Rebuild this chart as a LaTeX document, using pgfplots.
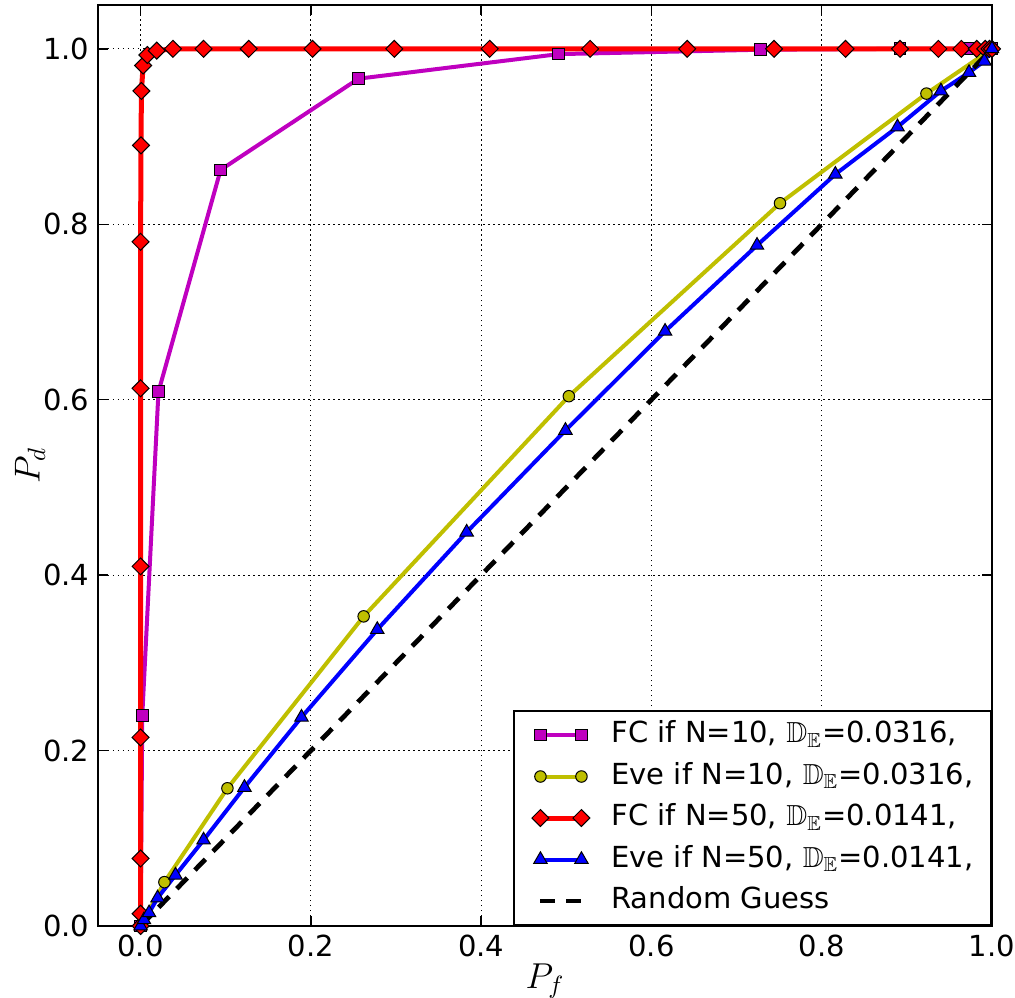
\documentclass[border=0pt]{standalone}
\usepackage{fontspec}
\usepackage{amssymb}
\usepackage{pgfplots}
\pgfplotsset{compat=1.18}
\newfontfamily\djv{DejaVu Sans}
\definecolor{mplm}{rgb}{0.75,0,0.75}
\definecolor{mply}{rgb}{0.75,0.75,0}

% ROC curves: detection vs false-alarm probability
\pgfplotstableread{
x y
0     0
0.002 0.240
0.021 0.609
0.094 0.862
0.256 0.966
0.491 0.994
0.728 0.999
0.892 1.000
0.972 1.000
1.000 1.000
}\fcten
\pgfplotstableread{
x y
0     0
0.028 0.050
0.102 0.157
0.262 0.353
0.503 0.604
0.751 0.824
0.923 0.949
1.000 1.000
}\eveten
\pgfplotstableread{
x y
0      0
0      0.014
0      0.077
0      0.215
0      0.410
0      0.613
0      0.780
0.0005 0.890
0.001  0.952
0.003  0.981
0.008  0.993
0.019  0.998
0.038  1.000
0.074  1.000
0.127  1.000
0.202  1.000
0.298  1.000
0.410  1.000
0.528  1.000
0.642  1.000
0.744  1.000
0.828  1.000
0.892  1.000
0.937  1.000
0.964  1.000
0.982  1.000
0.992  1.000
0.997  1.000
1.000  1.000
}\fcfifty
\pgfplotstableread{
x y
0     0
0.004 0.007
0.010 0.015
0.020 0.032
0.041 0.058
0.074 0.098
0.122 0.158
0.189 0.238
0.278 0.338
0.383 0.449
0.499 0.565
0.616 0.678
0.724 0.776
0.816 0.857
0.889 0.911
0.940 0.952
0.973 0.973
0.991 0.986
1.000 1.000
}\evefifty

\begin{document}
\begin{tikzpicture}
\begin{axis}[
  scale only axis, width=357.6pt, height=368.4pt,
  xmin=-0.05, xmax=1.0, ymin=0, ymax=1.05,
  xtick={0,0.2,0.4,0.6,0.8,1.0}, xticklabels={0.0,0.2,0.4,0.6,0.8,1.0},
  ytick={0,0.2,0.4,0.6,0.8,1.0}, yticklabels={0.0,0.2,0.4,0.6,0.8,1.0},
  tick align=inside, major tick length=4pt,
  tick style={black, line width=0.6pt},
  ticklabel style={font=\fontsize{11.6}{13}\djv},
  grid=major,
  major grid style={black, line width=0.5pt, dash pattern=on 0.6pt off 1.4pt},
  axis line style={line width=0.8pt},
  xlabel={$P_f$}, ylabel={$P_d$},
  label style={font=\fontsize{14.5}{17}\selectfont},
  xlabel style={at={(axis description cs:0.5,-0.060)}, anchor=center},
  ylabel style={at={(axis description cs:-0.076,0.5)}, anchor=center},
  legend style={at={(1,0)}, anchor=south east, draw=black, line width=0.8pt,
    fill=white, font=\fontsize{11.6}{13}\djv, inner xsep=7pt, inner ysep=4pt,
    row sep=5.4pt, nodes={inner sep=0pt, text height=8.6pt, text depth=2.6pt},
    /tikz/every odd column/.append style={column sep=8.6pt}},
  legend cell align=left,
  legend image code/.code={\draw[#1] plot coordinates {(0pt,0pt) (16.4pt,0pt)};},
]
\addplot[color=mplm, line width=1.6pt, mark=square*, mark size=2.35pt,
  mark options={solid, fill=mplm, draw=black, line width=0.4pt}] table {\fcten};
\addlegendentry{FC if N=10, $\mathbb{D}_{\mathbb{E}}$=0.0316,}
\addplot[color=mply, line width=1.6pt, mark=*, mark size=2.3pt,
  mark options={solid, fill=mply, draw=black, line width=0.4pt}] table {\eveten};
\addlegendentry{Eve if N=10, $\mathbb{D}_{\mathbb{E}}$=0.0316,}
\addplot[color=red, line width=2pt, mark=square*, mark size=2.4pt,
  mark options={solid, fill=red, draw=black, line width=0.4pt, rotate=45}] table {\fcfifty};
\addlegendentry{FC if N=50, $\mathbb{D}_{\mathbb{E}}$=0.0141,}
\addplot[color=blue, line width=1.6pt, mark=triangle*, mark size=3.1pt,
  mark options={solid, fill=blue, draw=black, line width=0.4pt}] table {\evefifty};
\addlegendentry{Eve if N=50, $\mathbb{D}_{\mathbb{E}}$=0.0141,}
\addplot[black, line width=1.9pt, dash pattern=on 6pt off 4.4pt, mark=none]
  coordinates {(0,0) (1,1)};
\addlegendentry{Random Guess}
\end{axis}
\pgfresetboundingbox
\path ([xshift=-39.2pt,yshift=-28.4pt]current axis.south west)
  rectangle ([xshift=9.2pt,yshift=2pt]current axis.north east);
\end{tikzpicture}
\end{document}
